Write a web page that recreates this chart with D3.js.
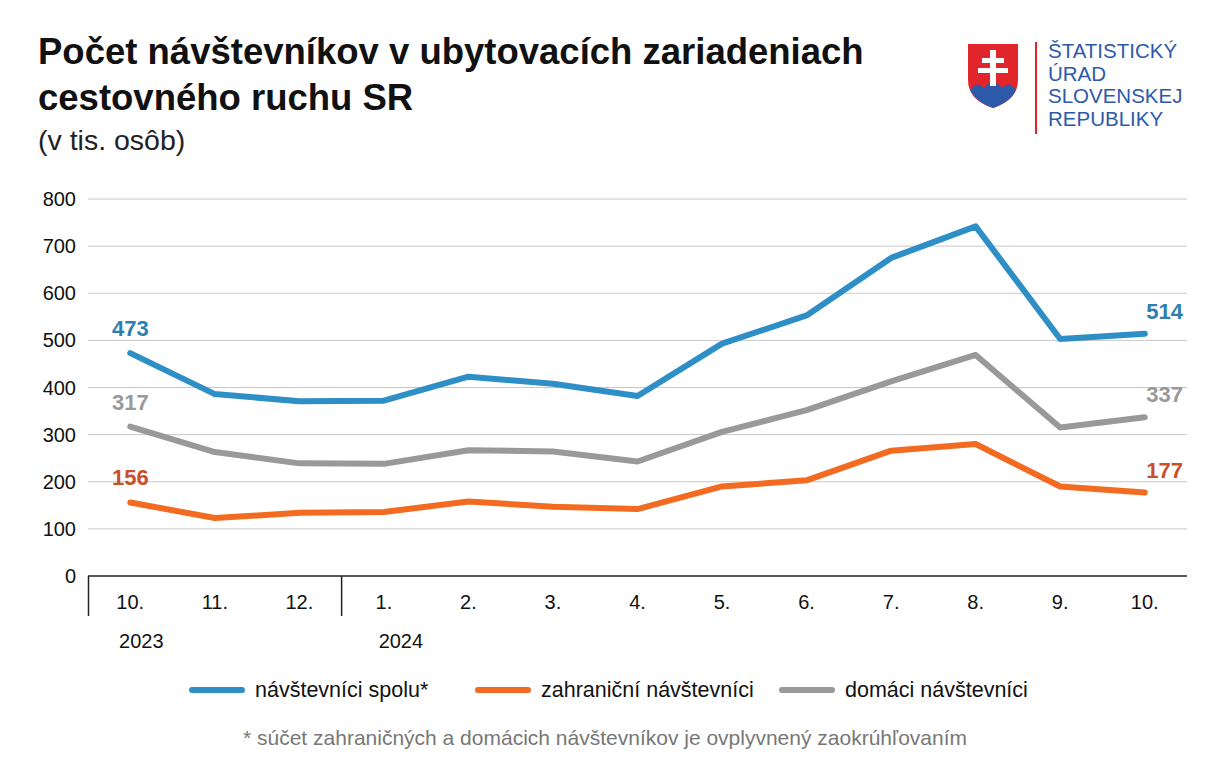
<!DOCTYPE html>
<html><head><meta charset="utf-8">
<script src="https://cdn.jsdelivr.net/npm/d3@7"></script>
<style>body{margin:0;background:#fff;font-family:Arial,"Liberation Sans",sans-serif}</style>
</head><body><svg id="c" width="1225" height="781"></svg>
<script>
const months=["10.","11.","12.","1.","2.","3.","4.","5.","6.","7.","8.","9.","10."];
const spolu=[473,386,371,372,423,408,382,493,553,675,742,503,514];
const zahranicni=[156,123,134,136,158,147,142,190,203,266,280,190,177];
const domaci=[317,263,239,238,267,264,243,306,352,413,469,315,337];
const yTicks=[0,100,200,300,400,500,600,700,800];
const series=[
 {name:"návštevníci spolu*",values:spolu,color:"#2e8fc6",label:"#2e7fb0"},
 {name:"zahraniční návštevníci",values:zahranicni,color:"#f26b21",label:"#c8502a"},
 {name:"domáci návštevníci",values:domaci,color:"#999999",label:"#999999"}];
const svg=d3.select("#c");
const x=d3.scaleBand().domain(d3.range(months.length)).range([88,1187]);
const y=d3.scaleLinear().domain([0,800]).range([576,199]);
const cx=i=>x(i)+x.bandwidth()/2;
svg.append("text").attr("x",38).attr("y",64).attr("font-size",36.5).attr("font-weight","bold").attr("fill","#111").text("Počet návštevníkov v ubytovacích zariadeniach");
svg.append("text").attr("x",38).attr("y",110).attr("font-size",36.5).attr("font-weight","bold").attr("fill","#111").text("cestovného ruchu SR");
svg.append("text").attr("x",38).attr("y",150).attr("font-size",28.5).attr("fill","#222").text("(v tis. osôb)");
yTicks.forEach(t=>{
 if(t>0)svg.append("line").attr("x1",88).attr("x2",1187).attr("y1",y(t)).attr("y2",y(t)).attr("stroke","#c8c8c8").attr("stroke-width",1);
 svg.append("text").attr("x",76).attr("y",y(t)+7).attr("text-anchor","end").attr("font-size",20).attr("fill","#111").text(t);
});
svg.append("line").attr("x1",88).attr("x2",1187).attr("y1",576).attr("y2",576).attr("stroke","#222").attr("stroke-width",1.5);
svg.append("line").attr("x1",88.5).attr("x2",88.5).attr("y1",576).attr("y2",616).attr("stroke","#222").attr("stroke-width",1.5);
svg.append("line").attr("x1",x(3)).attr("x2",x(3)).attr("y1",576).attr("y2",616).attr("stroke","#222").attr("stroke-width",1.5);
months.forEach((m,i)=>svg.append("text").attr("x",cx(i)).attr("y",609).attr("text-anchor","middle").attr("font-size",20).attr("fill","#111").text(m));
svg.append("text").attr("x",cx(0)+11).attr("y",648).attr("text-anchor","middle").attr("font-size",20).attr("fill","#111").text("2023");
svg.append("text").attr("x",cx(3)+17).attr("y",648).attr("text-anchor","middle").attr("font-size",20).attr("fill","#111").text("2024");
const line=d3.line().x((d,i)=>cx(i)).y(d=>y(d));
[series[2],series[1],series[0]].forEach(s=>{
 svg.append("path").attr("d",line(s.values)).attr("fill","none").attr("stroke",s.color).attr("stroke-width",6).attr("stroke-linejoin","round").attr("stroke-linecap","round");
});
series.forEach(s=>{
 const v=s.values,n=v.length-1;
 svg.append("text").attr("x",cx(0)).attr("y",y(v[0])-17).attr("text-anchor","middle").attr("font-size",22).attr("font-weight","bold").attr("fill",s.label).text(v[0]);
 svg.append("text").attr("x",cx(n)+20).attr("y",y(v[n])-15).attr("text-anchor","middle").attr("font-size",22).attr("font-weight","bold").attr("fill",s.label).text(v[n]);
});
const lx=[192,478,782];
series.forEach((s,i)=>{
 svg.append("line").attr("x1",lx[i]).attr("x2",lx[i]+50).attr("y1",690).attr("y2",690).attr("stroke",s.color).attr("stroke-width",6).attr("stroke-linecap","round");
 svg.append("text").attr("x",lx[i]+63).attr("y",697).attr("font-size",21.5).attr("fill","#111").text(s.name);
});
svg.append("text").attr("x",605).attr("y",745).attr("text-anchor","middle").attr("font-size",21).attr("fill","#777").text("* súčet zahraničných a domácich návštevníkov je ovplyvnený zaokrúhľovaním");
const g=svg.append("g");
g.append("path").attr("d","M968,44 L1018,44 L1018,80 Q1018,100 993,108 Q968,100 968,80 Z").attr("fill","#e0262a");
g.append("path").attr("d","M970,90 Q977,80 984,88 Q993,76 1002,88 Q1009,80 1016,90 Q1010,102 993,108 Q976,102 970,90 Z").attr("fill","#2d5aa8");
g.append("rect").attr("x",990).attr("y",50).attr("width",6).attr("height",36).attr("fill","#fff");
g.append("rect").attr("x",982).attr("y",58).attr("width",22).attr("height",5).attr("fill","#fff");
g.append("rect").attr("x",978).attr("y",68).attr("width",30).attr("height",5).attr("fill","#fff");
g.append("line").attr("x1",1036).attr("x2",1036).attr("y1",42).attr("y2",134).attr("stroke","#e0262a").attr("stroke-width",2);
["ŠTATISTICKÝ","ÚRAD","SLOVENSKEJ","REPUBLIKY"].forEach((t,i)=>g.append("text").attr("x",1048).attr("y",58+i*22.5).attr("font-size",20.5).attr("fill","#2d5aa8").text(t));
</script></body></html>
